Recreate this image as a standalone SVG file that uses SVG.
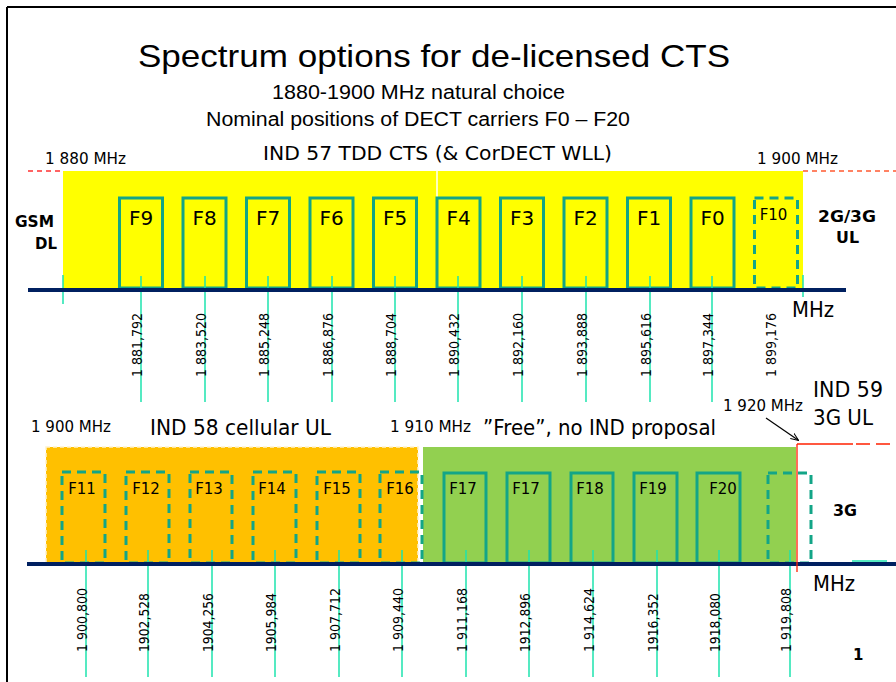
<svg xmlns="http://www.w3.org/2000/svg" width="896" height="682" viewBox="0 0 896 682">
<defs>
<style>
.t{font-family:"DejaVu Sans",Verdana,sans-serif;fill:#000}
.n{font-family:"Liberation Sans Narrow","Liberation Sans",Arial,sans-serif;fill:#000}
.b{font-weight:bold}
.box{fill:none;stroke:#13A587;stroke-width:3}
.dbox{fill:none;stroke:#13A587;stroke-width:3;stroke-dasharray:9 6}
.tick{stroke:#1CE3AE;stroke-width:1.5}
.lbl{font-family:"DejaVu Sans",Verdana,sans-serif;font-size:14px;fill:#000}
.fl{font-family:"DejaVu Sans",Verdana,sans-serif;font-size:20px;fill:#000;text-anchor:middle}
.fs{font-family:"DejaVu Sans",Verdana,sans-serif;font-size:15px;fill:#000;text-anchor:middle}
</style>
<marker id="ah" viewBox="0 0 10 10" refX="9" refY="5" markerWidth="8" markerHeight="8" orient="auto" markerUnits="userSpaceOnUse">
<path d="M0,1 L10,5 L0,9" fill="none" stroke="#000" stroke-width="1.3"/>
</marker>
</defs>
<rect width="896" height="682" fill="#fff"/>
<g id="frame" stroke="#000" stroke-width="2">
<line x1="7" y1="7" x2="896" y2="7"/>
<line x1="7" y1="7" x2="7" y2="682"/>
</g>
<g id="title">
<text class="n" x="434" y="67" font-size="32" text-anchor="middle" textLength="592" lengthAdjust="spacingAndGlyphs">Spectrum options for de-licensed CTS</text>
<text class="n" x="418.5" y="99" font-size="19.5" text-anchor="middle" textLength="293" lengthAdjust="spacingAndGlyphs">1880-1900 MHz natural choice</text>
<text class="n" x="418" y="126" font-size="19.5" text-anchor="middle" textLength="424" lengthAdjust="spacingAndGlyphs">Nominal positions of DECT carriers F0 – F20</text>
</g>
<g id="band-top">
<rect x="63" y="171" width="740" height="117" fill="#FFFF00"/>
<line x1="437" y1="171" x2="437" y2="197" stroke="#fff" stroke-width="1.5"/>
<text class="t" x="263" y="160" font-size="19" textLength="349" lengthAdjust="spacingAndGlyphs">IND 57 TDD CTS (&amp; CorDECT WLL)</text>
<text class="t" x="45" y="164" font-size="15" textLength="81" lengthAdjust="spacingAndGlyphs">1 880 MHz</text>
<text class="t" x="757" y="164" font-size="15" textLength="81" lengthAdjust="spacingAndGlyphs">1 900 MHz</text>
<line x1="28" y1="171" x2="63" y2="171" stroke="#FF3030" stroke-width="1.3" stroke-dasharray="5 4"/>
<line x1="803" y1="171" x2="896" y2="171" stroke="#FF5A30" stroke-width="1.3" stroke-dasharray="5 4"/>
<text class="t b" x="15" y="227" font-size="15" textLength="39" lengthAdjust="spacingAndGlyphs">GSM</text>
<text class="t b" x="35" y="249" font-size="15" textLength="22" lengthAdjust="spacingAndGlyphs">DL</text>
<text class="t b" x="818" y="222" font-size="16" textLength="58" lengthAdjust="spacingAndGlyphs">2G/3G</text>
<text class="t b" x="836" y="243" font-size="16" textLength="23" lengthAdjust="spacingAndGlyphs">UL</text>
<text class="t" x="792" y="317" font-size="21" textLength="42" lengthAdjust="spacingAndGlyphs">MHz</text>
</g>
<g id="carriers-top">
<g id="F9"><rect class="box" x="119.5" y="198" width="43" height="90"/><text class="fl" x="141" y="225">F9</text></g>
<g id="F8"><rect class="box" x="183" y="198" width="43" height="90"/><text class="fl" x="204.5" y="225">F8</text></g>
<g id="F7"><rect class="box" x="246.5" y="198" width="43" height="90"/><text class="fl" x="268" y="225">F7</text></g>
<g id="F6"><rect class="box" x="310" y="198" width="43" height="90"/><text class="fl" x="331.5" y="225">F6</text></g>
<g id="F5"><rect class="box" x="373.5" y="198" width="43" height="90"/><text class="fl" x="395" y="225">F5</text></g>
<g id="F4"><rect class="box" x="437" y="198" width="43" height="90"/><text class="fl" x="458.5" y="225">F4</text></g>
<g id="F3"><rect class="box" x="500.5" y="198" width="43" height="90"/><text class="fl" x="522" y="225">F3</text></g>
<g id="F2"><rect class="box" x="564" y="198" width="43" height="90"/><text class="fl" x="585.5" y="225">F2</text></g>
<g id="F1"><rect class="box" x="627.5" y="198" width="43" height="90"/><text class="fl" x="649" y="225">F1</text></g>
<g id="F0"><rect class="box" x="691" y="198" width="43" height="90"/><text class="fl" x="712.5" y="225">F0</text></g>
<g id="F10"><rect class="dbox" x="754.5" y="198" width="43" height="90"/><text class="fs" x="773.5" y="220" font-size="16">F10</text></g>
</g>
<g id="ticks-top">
<line class="tick" x1="63" y1="275" x2="63" y2="304"/>
<line class="tick" x1="803" y1="275" x2="803" y2="297"/>
<line class="tick" x1="141" y1="276" x2="141" y2="402"/>
<line class="tick" x1="205" y1="276" x2="205" y2="402"/>
<line class="tick" x1="268" y1="276" x2="268" y2="402"/>
<line class="tick" x1="332" y1="276" x2="332" y2="402"/>
<line class="tick" x1="395" y1="276" x2="395" y2="402"/>
<line class="tick" x1="458" y1="276" x2="458" y2="402"/>
<line class="tick" x1="522" y1="276" x2="522" y2="402"/>
<line class="tick" x1="586" y1="276" x2="586" y2="402"/>
<line class="tick" x1="650" y1="276" x2="650" y2="402"/>
<line class="tick" x1="712" y1="276" x2="712" y2="402"/>
</g>
<rect id="axis-top" x="28" y="288" width="818" height="4" fill="#002060"/>
<g id="labels-top">
<text class="lbl" transform="translate(142,377) rotate(-90)" textLength="64" lengthAdjust="spacingAndGlyphs">1 881,792</text>
<text class="lbl" transform="translate(206,377) rotate(-90)" textLength="64" lengthAdjust="spacingAndGlyphs">1 883,520</text>
<text class="lbl" transform="translate(269,377) rotate(-90)" textLength="64" lengthAdjust="spacingAndGlyphs">1 885,248</text>
<text class="lbl" transform="translate(333,377) rotate(-90)" textLength="64" lengthAdjust="spacingAndGlyphs">1 886,876</text>
<text class="lbl" transform="translate(396,377) rotate(-90)" textLength="64" lengthAdjust="spacingAndGlyphs">1 888,704</text>
<text class="lbl" transform="translate(459,377) rotate(-90)" textLength="64" lengthAdjust="spacingAndGlyphs">1 890,432</text>
<text class="lbl" transform="translate(523,377) rotate(-90)" textLength="64" lengthAdjust="spacingAndGlyphs">1 892,160</text>
<text class="lbl" transform="translate(587,377) rotate(-90)" textLength="64" lengthAdjust="spacingAndGlyphs">1 893,888</text>
<text class="lbl" transform="translate(651,377) rotate(-90)" textLength="64" lengthAdjust="spacingAndGlyphs">1 895,616</text>
<text class="lbl" transform="translate(713,377) rotate(-90)" textLength="64" lengthAdjust="spacingAndGlyphs">1 897,344</text>
<text class="lbl" transform="translate(776,377) rotate(-90)" textLength="64" lengthAdjust="spacingAndGlyphs">1 899,176</text>
</g>
<g id="band-bottom">
<rect x="46" y="447" width="372" height="116" fill="#FFC000" stroke="#FFF2CC" stroke-width="1.5" stroke-dasharray="4 3"/>
<rect x="423" y="447" width="373" height="116" fill="#92D050"/>
<text class="t" x="31" y="432" font-size="15" textLength="80" lengthAdjust="spacingAndGlyphs">1 900 MHz</text>
<text class="t" x="150" y="435" font-size="22" textLength="181" lengthAdjust="spacingAndGlyphs">IND 58 cellular UL</text>
<text class="t" x="390" y="432" font-size="15" textLength="81" lengthAdjust="spacingAndGlyphs">1 910 MHz</text>
<text class="t" x="483" y="435" font-size="22" textLength="233" lengthAdjust="spacingAndGlyphs">”Free”, no IND proposal</text>
<text class="t" x="723" y="411" font-size="15" textLength="80" lengthAdjust="spacingAndGlyphs">1 920 MHz</text>
<text class="t" x="813" y="397" font-size="22" textLength="70" lengthAdjust="spacingAndGlyphs">IND 59</text>
<text class="t" x="813" y="425" font-size="22" textLength="60" lengthAdjust="spacingAndGlyphs">3G UL</text>
<text class="t b" x="833" y="516" font-size="15" textLength="24" lengthAdjust="spacingAndGlyphs">3G</text>
<text class="t" x="813" y="591" font-size="21" textLength="42" lengthAdjust="spacingAndGlyphs">MHz</text>
<text class="t b" x="853" y="660" font-size="15">1</text>
</g>
<g id="carriers-bottom">
<g id="F11"><rect class="dbox" x="62" y="472" width="43" height="91"/><text class="fs" x="82" y="494">F11</text></g>
<g id="F12"><rect class="dbox" x="126" y="472" width="43" height="91"/><text class="fs" x="146" y="494">F12</text></g>
<g id="F13"><rect class="dbox" x="190" y="472" width="42" height="91"/><text class="fs" x="209" y="494">F13</text></g>
<g id="F14"><rect class="dbox" x="253" y="472" width="43" height="91"/><text class="fs" x="272" y="494">F14</text></g>
<g id="F15"><rect class="dbox" x="317" y="472" width="43" height="91"/><text class="fs" x="337" y="494">F15</text></g>
<g id="F16"><rect class="dbox" x="380" y="472" width="42" height="91"/><text class="fs" x="400" y="494">F16</text></g>
<g id="F17a"><rect class="box" x="444" y="473" width="42" height="90"/><text class="fs" x="463" y="494">F17</text></g>
<g id="F17b"><rect class="box" x="507" y="473" width="43" height="90"/><text class="fs" x="526" y="494">F17</text></g>
<g id="F18"><rect class="box" x="571" y="473" width="42" height="90"/><text class="fs" x="590" y="494">F18</text></g>
<g id="F19"><rect class="box" x="634" y="473" width="43" height="90"/><text class="fs" x="653" y="494">F19</text></g>
<g id="F20"><rect class="box" x="697" y="473" width="43" height="90"/><text class="fs" x="723" y="494">F20</text></g>
<g id="F21"><rect class="dbox" x="768" y="473" width="43" height="90"/></g>
</g>
<g id="ticks-bottom">
<line class="tick" x1="86" y1="550" x2="86" y2="677"/>
<line class="tick" x1="148" y1="550" x2="148" y2="677"/>
<line class="tick" x1="212" y1="550" x2="212" y2="677"/>
<line class="tick" x1="275" y1="550" x2="275" y2="677"/>
<line class="tick" x1="339" y1="550" x2="339" y2="677"/>
<line class="tick" x1="402" y1="550" x2="402" y2="677"/>
<line class="tick" x1="466" y1="550" x2="466" y2="677"/>
<line class="tick" x1="529" y1="550" x2="529" y2="677"/>
<line class="tick" x1="593" y1="550" x2="593" y2="677"/>
<line class="tick" x1="657" y1="550" x2="657" y2="677"/>
<line class="tick" x1="719" y1="550" x2="719" y2="677"/>
<line class="tick" x1="790" y1="550" x2="790" y2="677"/>
<line class="tick" x1="852" y1="561" x2="887" y2="561"/>
</g>
<rect id="axis-bottom" x="27" y="562" width="869" height="4" fill="#002060"/>
<g id="connectors" fill="none">
<line x1="797" y1="444" x2="797" y2="572" stroke="#FF2000" stroke-width="1.3"/>
<line x1="797" y1="444" x2="853" y2="444" stroke="#FF2000" stroke-width="1.3"/>
<line x1="856" y1="444" x2="896" y2="444" stroke="#FF2000" stroke-width="1.3" stroke-dasharray="14 6"/>
<line x1="766" y1="418" x2="798" y2="440" stroke="#000" stroke-width="1.2" marker-end="url(#ah)"/>
</g>
<g id="labels-bottom">
<text class="lbl" transform="translate(87,652) rotate(-90)" textLength="64" lengthAdjust="spacingAndGlyphs">1 900,800</text>
<text class="lbl" transform="translate(149,652) rotate(-90)" textLength="59" lengthAdjust="spacingAndGlyphs">1902,528</text>
<text class="lbl" transform="translate(213,652) rotate(-90)" textLength="59" lengthAdjust="spacingAndGlyphs">1904,256</text>
<text class="lbl" transform="translate(276,652) rotate(-90)" textLength="59" lengthAdjust="spacingAndGlyphs">1905,984</text>
<text class="lbl" transform="translate(340,652) rotate(-90)" textLength="64" lengthAdjust="spacingAndGlyphs">1 907,712</text>
<text class="lbl" transform="translate(403,652) rotate(-90)" textLength="64" lengthAdjust="spacingAndGlyphs">1 909,440</text>
<text class="lbl" transform="translate(467,652) rotate(-90)" textLength="64" lengthAdjust="spacingAndGlyphs">1 911,168</text>
<text class="lbl" transform="translate(530,652) rotate(-90)" textLength="59" lengthAdjust="spacingAndGlyphs">1912,896</text>
<text class="lbl" transform="translate(594,652) rotate(-90)" textLength="64" lengthAdjust="spacingAndGlyphs">1 914,624</text>
<text class="lbl" transform="translate(658,652) rotate(-90)" textLength="59" lengthAdjust="spacingAndGlyphs">1916,352</text>
<text class="lbl" transform="translate(720,652) rotate(-90)" textLength="59" lengthAdjust="spacingAndGlyphs">1918,080</text>
<text class="lbl" transform="translate(791,652) rotate(-90)" textLength="64" lengthAdjust="spacingAndGlyphs">1 919,808</text>
</g>
</svg>
